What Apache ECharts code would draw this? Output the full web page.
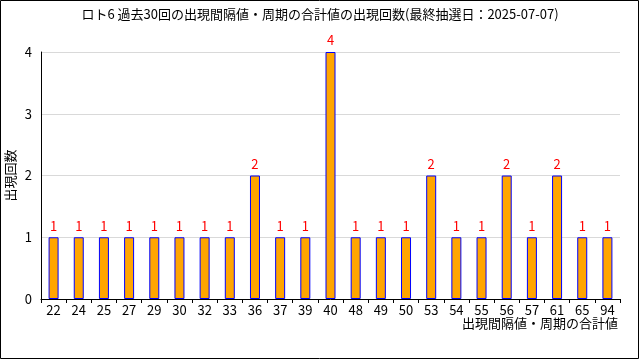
<!DOCTYPE html>
<html><head><meta charset="utf-8">
<script src="https://cdn.jsdelivr.net/npm/echarts@6/dist/echarts.min.js"></script>
<style>html,body{margin:0;padding:0;background:#fff}#c{width:640px;height:360px}</style>
</head><body><div id="c"></div>
<script>
const titleText = 'ロト6 過去30回の出現間隔値・周期の合計値の出現回数(最終抽選日：2025-07-07)';
const xName = '出現間隔値・周期の合計値';
const yName = '出現回数';
const categories = ['22','24','25','27','29','30','32','33','36','37','39','40','48','49','50','53','54','55','56','57','61','65','94'];
const counts = [1,1,1,1,1,1,1,1,2,1,1,4,1,1,1,2,1,1,2,1,2,1,1];
const yTicks = [0,1,2,3,4];

const font = '"Noto Sans CJK JP", "DejaVu Sans", sans-serif';
const chart = echarts.init(document.getElementById('c'), null, {renderer:'canvas'});
chart.setOption({
  animation:false,
  backgroundColor:'#fff',
  textStyle:{fontFamily:font},
  title:{text:titleText,left:'center',top:3,textStyle:{fontSize:13,fontWeight:'normal',color:'#000',fontFamily:font}},
  graphic:[{type:'rect',shape:{x:0.5,y:0.5,width:638,height:358},style:{fill:'none',stroke:'#000',lineWidth:1},silent:true}],
  grid:{left:41,right:20,top:52,bottom:61,containLabel:false,outerBoundsMode:'none'},
  xAxis:{type:'category',data:categories,
    axisLine:{lineStyle:{color:'#000',width:1}},
    axisTick:{show:true,length:4,lineStyle:{color:'#000'}},
    axisLabel:{color:'#000',fontSize:13,margin:5,fontFamily:font,interval:0},
    name:xName,nameLocation:'end',nameGap:-2,nameMoveOverlap:false,
    nameTextStyle:{color:'#000',fontSize:13,fontFamily:font,align:'right',verticalAlign:'top',padding:[18,0,0,0]}},
  yAxis:{type:'value',min:yTicks[0],max:yTicks[yTicks.length-1],interval:1,
    axisLine:{show:true,lineStyle:{color:'#000',width:1}},
    axisTick:{show:false},
    splitLine:{lineStyle:{color:'#d9d9d9'}},
    axisLabel:{color:'#000',fontSize:13,margin:9,fontFamily:font},
    name:yName,nameLocation:'middle',nameGap:24,nameRotate:90,nameMoveOverlap:false,
    nameTextStyle:{color:'#000',fontSize:13,fontFamily:font}},
  series:[{type:'bar',data:counts,barWidth:10,
    itemStyle:{color:'#ffa500',borderColor:'#0000ff',borderWidth:1},
    label:{show:true,position:'top',distance:5,color:'#ff0000',fontSize:13,fontFamily:font}}]
});
</script></body></html>
